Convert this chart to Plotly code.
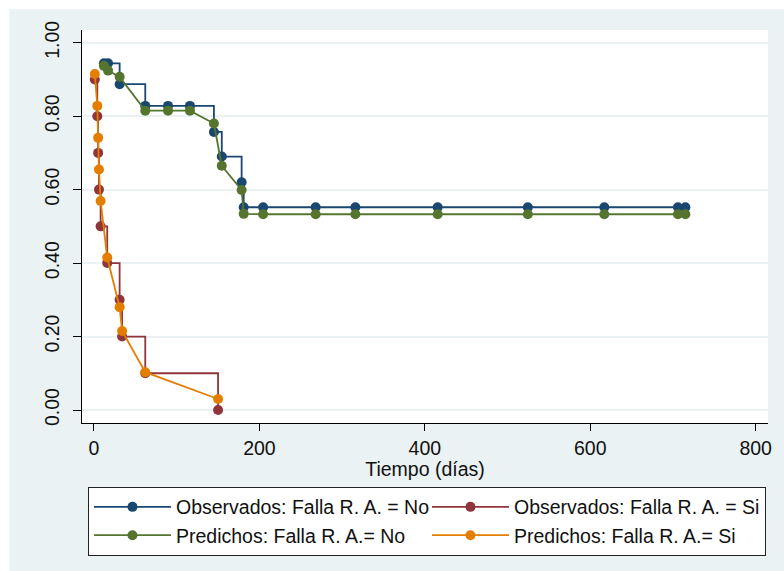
import plotly.graph_objects as go

# Survival curves: observed (Kaplan-Meier steps) vs predicted, by "Falla R. A."
t_no = [12, 17, 31, 62, 89.5, 116, 145, 154.5, 178.5, 181, 204.5, 268, 316, 415.5, 524.5, 617, 706, 715]
obs_no = [0.944, 0.944, 0.887, 0.828, 0.828, 0.828, 0.757, 0.690, 0.620, 0.552,
          0.552, 0.552, 0.552, 0.552, 0.552, 0.552, 0.552, 0.552]
pred_no = [0.937, 0.924, 0.907, 0.815, 0.815, 0.815, 0.780, 0.665, 0.599, 0.534,
           0.533, 0.533, 0.533, 0.533, 0.533, 0.533, 0.533, 0.533]

t_si = [1, 4, 5, 6, 8, 16, 31, 34, 62, 150]
obs_si = [0.90, 0.80, 0.70, 0.60, 0.50, 0.40, 0.30, 0.20, 0.10, 0.00]
pred_si = [0.915, 0.828, 0.741, 0.655, 0.569, 0.415, 0.280, 0.215, 0.103, 0.030]

x_ticks = [0, 200, 400, 600, 800]
y_ticks = [0.0, 0.2, 0.4, 0.6, 0.8, 1.0]
y_tick_text = ["0.00", "0.20", "0.40", "0.60", "0.80", "1.00"]

NAVY = "#1A476F"
MAROON = "#90353B"
FOREST = "#55752F"
ORANGE = "#E37E00"
BG = "#EAF2F3"
FONT = "Arial, 'Liberation Sans', sans-serif"

fig = go.Figure()


def add_series(x, y, name, color, shape):
    fig.add_trace(go.Scatter(
        x=x, y=y, name=name, mode="lines+markers",
        line=dict(color=color, width=1.8, shape=shape),
        marker=dict(color=color, size=10, symbol="circle"),
    ))


add_series(t_no, obs_no, "Observados: Falla R. A. = No", NAVY, "hv")
add_series(t_si, obs_si, "Observados: Falla R. A. = Si", MAROON, "hv")
add_series(t_no, pred_no, "Predichos: Falla R. A.= No", FOREST, "linear")
add_series(t_si, pred_si, "Predichos: Falla R. A.= Si", ORANGE, "linear")

fig.update_layout(
    width=784, height=571, autosize=False,
    margin=dict(l=82, r=14, t=30, b=148),
    paper_bgcolor=BG, plot_bgcolor="white",
    font=dict(family=FONT, size=19.5, color="#111111"),
    showlegend=True,
    legend=dict(
        orientation="h", x=0.0087, xanchor="left", y=-0.162, yanchor="top",
        bgcolor="white", bordercolor="#222222", borderwidth=1,
        entrywidth=246, entrywidthmode="pixels", itemwidth=77,
        font=dict(family=FONT, size=19.5, color="#111111"),
        traceorder="normal",
    ),
    shapes=[
        # white outer strips along the top and left edge of the page
        dict(type="rect", xref="paper", yref="paper", x0=-0.2, x1=1.1,
             y0=1.0528, y1=1.5, fillcolor="white", line_width=0, layer="above"),
        dict(type="rect", xref="paper", yref="paper", x0=-0.2, x1=-0.1061,
             y0=-1.0, y1=1.5, fillcolor="white", line_width=0, layer="above"),
    ],
)

fig.update_xaxes(
    range=[-14.5, 814.9], tickvals=x_ticks, ticktext=[str(v) for v in x_ticks],
    showgrid=False, zeroline=False,
    showline=True, linecolor="#000000", linewidth=1.2,
    ticks="outside", ticklen=7, tickwidth=1.2, tickcolor="#000000",
    tickfont=dict(family=FONT, size=19.5, color="#111111"),
    title=dict(text="Tiempo (días)", standoff=4,
               font=dict(family=FONT, size=19.5, color="#111111")),
)
fig.update_yaxes(
    range=[-0.0354, 1.0346], tickvals=y_ticks, ticktext=y_tick_text,
    tickangle=-90, ticklabelstandoff=6,
    showgrid=True, gridcolor=BG, gridwidth=2, zeroline=False,
    showline=True, linecolor="#000000", linewidth=1.2,
    ticks="outside", ticklen=8, tickwidth=1.2, tickcolor="#000000",
    tickfont=dict(family=FONT, size=19.5, color="#111111"),
)

fig.write_html("out.html")
